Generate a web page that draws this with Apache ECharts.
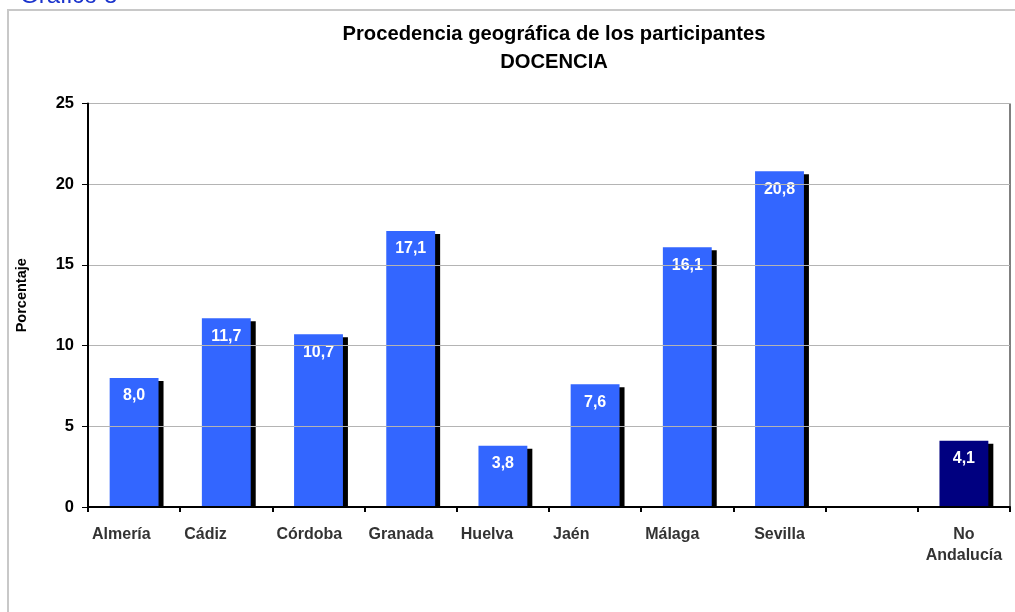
<!DOCTYPE html>
<html>
<head>
<meta charset="utf-8">
<script src="https://cdn.jsdelivr.net/npm/echarts@6/dist/echarts.min.js"></script>
<style>
html,body{margin:0;padding:0;background:#fff;}
#c{width:1015px;height:612px;}
</style>
</head>
<body>
<div id="c"></div>
<script>
const categories = ['Almería','Cádiz','Córdoba','Granada','Huelva','Jaén','Málaga','Sevilla','','No\nAndalucía'];
const values = [8.0, 11.7, 10.7, 17.1, 3.8, 7.6, 16.1, 20.8, null, 4.1];
const yTicks = [0, 5, 10, 15, 20, 25];
const darkCategory = 'No\nAndalucía';
const centeredLabels = ['Sevilla', 'No\nAndalucía'];

const chart = echarts.init(document.getElementById('c'), null, {renderer:'canvas'});
const FONT = 'Liberation Sans, Arial, sans-serif';
const BAR_FRAC = 0.53;
const GRID_LEFT = 88, GRID_RIGHT = 5;
const band = (1015 - GRID_LEFT - GRID_RIGHT) / categories.length;
const labelStyle = {fontFamily: FONT, fontSize: 16, fontWeight: 'bold', color: '#333', lineHeight: 21};

const option = {
  animation: false,
  backgroundColor: '#fff',
  title: {
    text: 'Procedencia geográfica de los participantes\nDOCENCIA',
    left: 549, top: 15, textAlign: 'center',
    textStyle: {fontFamily: FONT, fontSize: 20.2, fontWeight: 'bold', color: '#000', lineHeight: 28.5}
  },
  graphic: [
    {type:'rect', shape:{x:8, y:10, width:1030, height:640}, style:{fill:'none', stroke:'#c8c8c8', lineWidth:2}, silent:true, z:-1},
    {type:'text', left:20, top:-16, style:{text:'Gráfico 8', fontFamily:FONT, fontSize:24, fill:'#1a33cc'}}
  ],
  grid: {left: GRID_LEFT, right: GRID_RIGHT, top: 103.5, bottom: 105, outerBoundsMode: 'none', containLabel: false,
    show: true, borderColor: '#000', borderWidth: 1, backgroundColor: 'transparent'},
  xAxis: {
    type: 'category',
    data: categories,
    axisLine: {lineStyle: {color: '#000', width: 2}},
    axisTick: {show: true, length: 5, lineStyle: {color: '#000', width: 2}},
    axisLabel: {
      ...labelStyle, margin: 17, interval: 0,
      formatter: function (v) {
        if (!v) return '';
        const key = centeredLabels.includes(v) ? 'c' : 'l';
        return v.split('\n').map(s => '{' + key + '|' + s + '}').join('\n');
      },
      rich: {
        l: {...labelStyle, width: band - 8, align: 'left'},
        c: {...labelStyle, align: 'center'}
      }
    },
    z: 5
  },
  yAxis: {
    type: 'value', min: 0, max: 25, interval: 5,
    name: 'Porcentaje', nameLocation: 'middle', nameRotate: 90, nameGap: 59,
    nameTextStyle: {fontFamily: FONT, fontSize: 14.5, fontWeight: 'bold', color: '#000', padding:[0,0,0,20]},
    axisLine: {show: true, lineStyle: {color: '#000', width: 2}},
    axisTick: {show: true, length: 6, lineStyle: {color: '#000', width: 1}},
    axisLabel: {fontFamily: FONT, fontSize: 16.5, fontWeight: 'bold', color: '#000', margin: 14,
      formatter: v => yTicks.includes(v) ? String(v) : ''},
    splitLine: {lineStyle: {color: '#b4b4b4', width: 1}},
    z: 5
  },
  series: [
    {
      type: 'custom',
      z: 1,
      data: values.map((v, i) => [i, v]),
      renderItem: function (params, api) {
        const v = api.value(1);
        if (v == null || isNaN(v)) return null;
        const top = api.coord([api.value(0), v]);
        const base = api.coord([api.value(0), 0]);
        const bw = api.size([1, 0])[0] * BAR_FRAC;
        const x = top[0] - bw / 2 + 5;
        const y = top[1] + 3;
        return {type: 'rect', shape: {x: x, y: y, width: bw, height: base[1] - y}, style: {fill: '#000'}};
      }
    },
    {
      type: 'bar',
      z: 2,
      barWidth: (BAR_FRAC * 100) + '%',
      data: values.map((v, i) => ({
        value: v,
        itemStyle: {color: categories[i] === darkCategory ? '#000080' : '#3366ff'}
      })),
      label: {
        show: true, position: 'insideTop', distance: 10,
        fontFamily: FONT, fontSize: 16, fontWeight: 'bold', color: '#fff',
        formatter: p => p.value == null ? '' : p.value.toFixed(1).replace('.', ',')
      }
    }
  ]
};
chart.setOption(option);
</script>
</body>
</html>
